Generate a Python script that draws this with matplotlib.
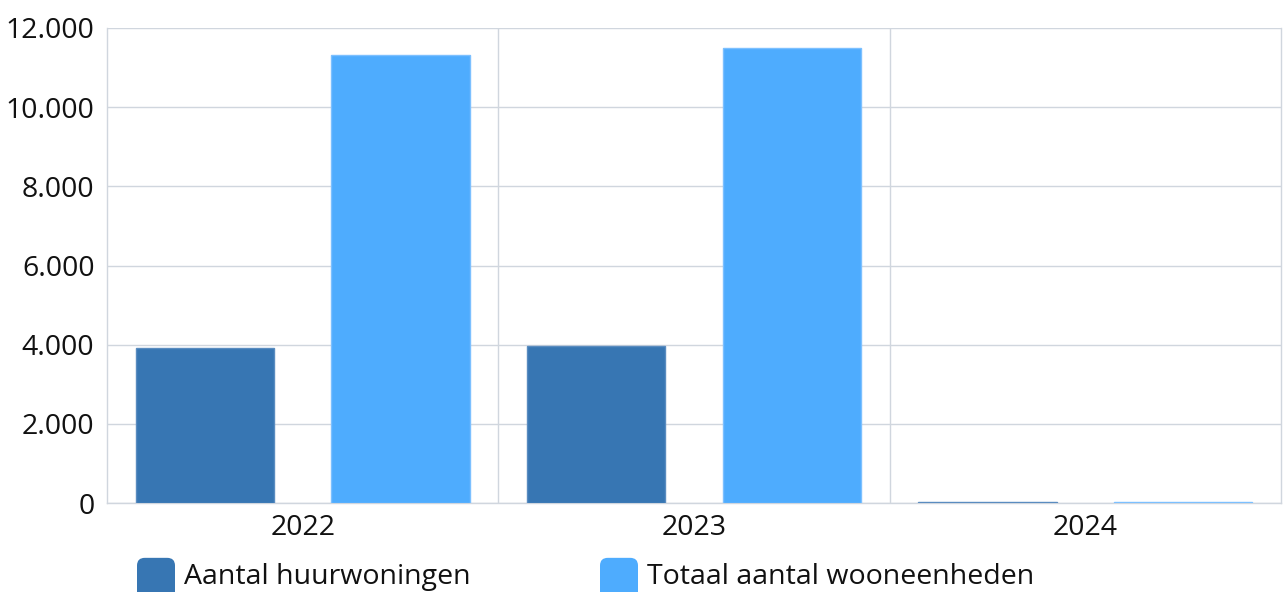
import matplotlib.pyplot as plt
import numpy as np
from matplotlib.patches import FancyBboxPatch
from matplotlib.ticker import FuncFormatter, MultipleLocator

plt.rcParams['font.family'] = ['Open Sans', 'DejaVu Sans']

# Data
years = ['2022', '2023', '2024']
huurwoningen = [3920, 3970, 30]
wooneenheden = [11320, 11490, 25]
seriesLabels = ['Aantal huurwoningen', 'Totaal aantal wooneenheden']
seriesColors = ['#3776b3', '#4eacfe']
edgeColors = ['#5a8cc0', '#7cc0ff']

gridColor = '#d0d6de'

fig = plt.figure(figsize=(12.88, 5.92), dpi=100)
ax = fig.add_axes([107 / 1288, 89 / 592, 1174 / 1288, 475 / 592])

index = np.arange(len(years))
width = 0.353
ax.bar(index - 0.25, huurwoningen, width, color=seriesColors[0],
       edgecolor=edgeColors[0], linewidth=1, zorder=3)
ax.bar(index + 0.25, wooneenheden, width, color=seriesColors[1],
       edgecolor=edgeColors[1], linewidth=1, zorder=3)

ax.set_xlim(-0.5, 2.5)
ax.set_ylim(0, 12000)
ax.yaxis.set_major_locator(MultipleLocator(2000))
ax.yaxis.set_major_formatter(FuncFormatter(lambda v, p: f'{int(v):,}'.replace(',', '.')))
ax.set_xticks(index)
ax.set_xticklabels(years)
ax.set_xticks([0.5, 1.5], minor=True)

ax.grid(axis='y', which='major', color=gridColor, linewidth=1, zorder=0)
ax.grid(axis='x', which='minor', color=gridColor, linewidth=1, zorder=0)
ax.grid(axis='x', which='major', visible=False)

ax.tick_params(axis='both', which='both', length=0, labelsize=20.5, colors='#111111')
ax.tick_params(axis='y', pad=9)
ax.tick_params(axis='x', pad=8)

for s in ['top']:
    ax.spines[s].set_visible(False)
for s in ['left', 'right', 'bottom']:
    ax.spines[s].set_color(gridColor)
    ax.spines[s].set_linewidth(1)

# Legend drawn by hand so the spacing matches
legendX = [137, 600]
for i in range(len(seriesLabels)):
    x0 = legendX[i] / 1288
    box = FancyBboxPatch((x0, -0.02), 38 / 1288, 46 / 592,
                         boxstyle='round,pad=0,rounding_size=0.006',
                         transform=fig.transFigure, facecolor=seriesColors[i],
                         edgecolor='none', mutation_aspect=1288 / 592)
    fig.patches.append(box)
    fig.text((legendX[i] + 47) / 1288, (592 - 577) / 592, seriesLabels[i],
             fontsize=20.5, va='center', ha='left', color='#111111')

plt.savefig('out.png', dpi=100)
